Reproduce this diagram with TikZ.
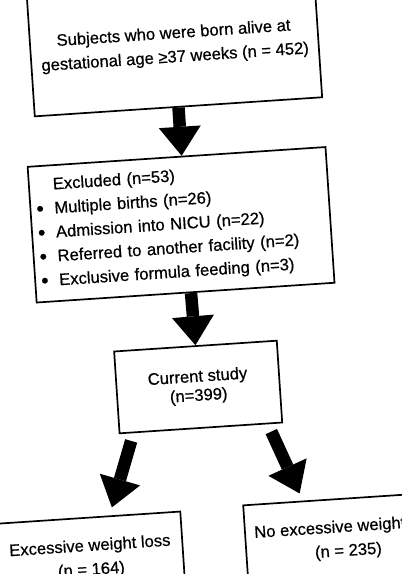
\documentclass[tikz,border=0pt]{standalone}
\usepackage{fontspec}
\setmainfont{Liberation Sans}[FakeBold=0.6]
\usetikzlibrary{arrows.meta,calc}

\newcommand{\bul}{\makebox[18pt][l]{\raisebox{-1.4pt}{\fontsize{21}{24}\selectfont\textbullet}}}

\begin{document}
\begin{tikzpicture}[
        x=1pt, y=1pt,
        every node/.style={font=\fontsize{16.6}{24}\selectfont, align=center},
        box/.style={draw, line width=1.7pt, inner sep=0pt},
        fat/.style={line width=12.5pt, -{Triangle[length=29pt,width=42pt,line width=0pt]}}
    ]
        \useasboundingbox (0,0) rectangle (402,-574);
        \clip (0,0) rectangle (402,-574);
        \begin{scope}[rotate=3.8, transform shape]
        \node[box, minimum width=288pt, minimum height=122pt] (sub) at (171,-57.4) {Subjects who were born alive at\\gestational age ≥37 weeks (n = 452)};
        \node[box, text width=286.5pt, inner xsep=6pt, align=left, minimum height=136pt] (excl) at (165.8,-236.3) {\hspace*{18pt}Excluded (n=53)\\
            \bul Multiple births (n=26)\\
            \bul Admission into NICU (n=22)\\
            \bul Referred to another facility (n=2)\\
            \bul Exclusive formula feeding (n=3)};
        \node[box, minimum width=163pt, minimum height=82pt, font=\fontsize{16.6}{19}\selectfont] (study) at (172.1,-399.3) {Current study\\(n=399)};
        \node[box, minimum width=185pt, minimum height=82pt] (ewl) at (53.5,-563.4) {Excessive weight loss\\(n = 164)};
        \node[box, minimum width=204pt, minimum height=82pt] (noewl) at (311.2,-561.4) {No excessive weight loss\\(n = 235)};

        \draw[fat] (sub.south) -- ($(excl.north west)!0.517!(excl.north east)$);
        \draw[fat] ($(excl.south west)!0.518!(excl.south east)$) -- (study.north);
        \draw[fat, shorten <=8pt, shorten >=8.3pt] ($(study.south west)!0.089!(study.south east)$) -- ($(ewl.north west)!0.616!(ewl.north east)$);
        \draw[fat, shorten <=8pt, shorten >=7.8pt] ($(study.south west)!0.908!(study.south east)$) -- ($(noewl.north west)!0.295!(noewl.north east)$);
        \end{scope}
    \end{tikzpicture}
\end{document}
